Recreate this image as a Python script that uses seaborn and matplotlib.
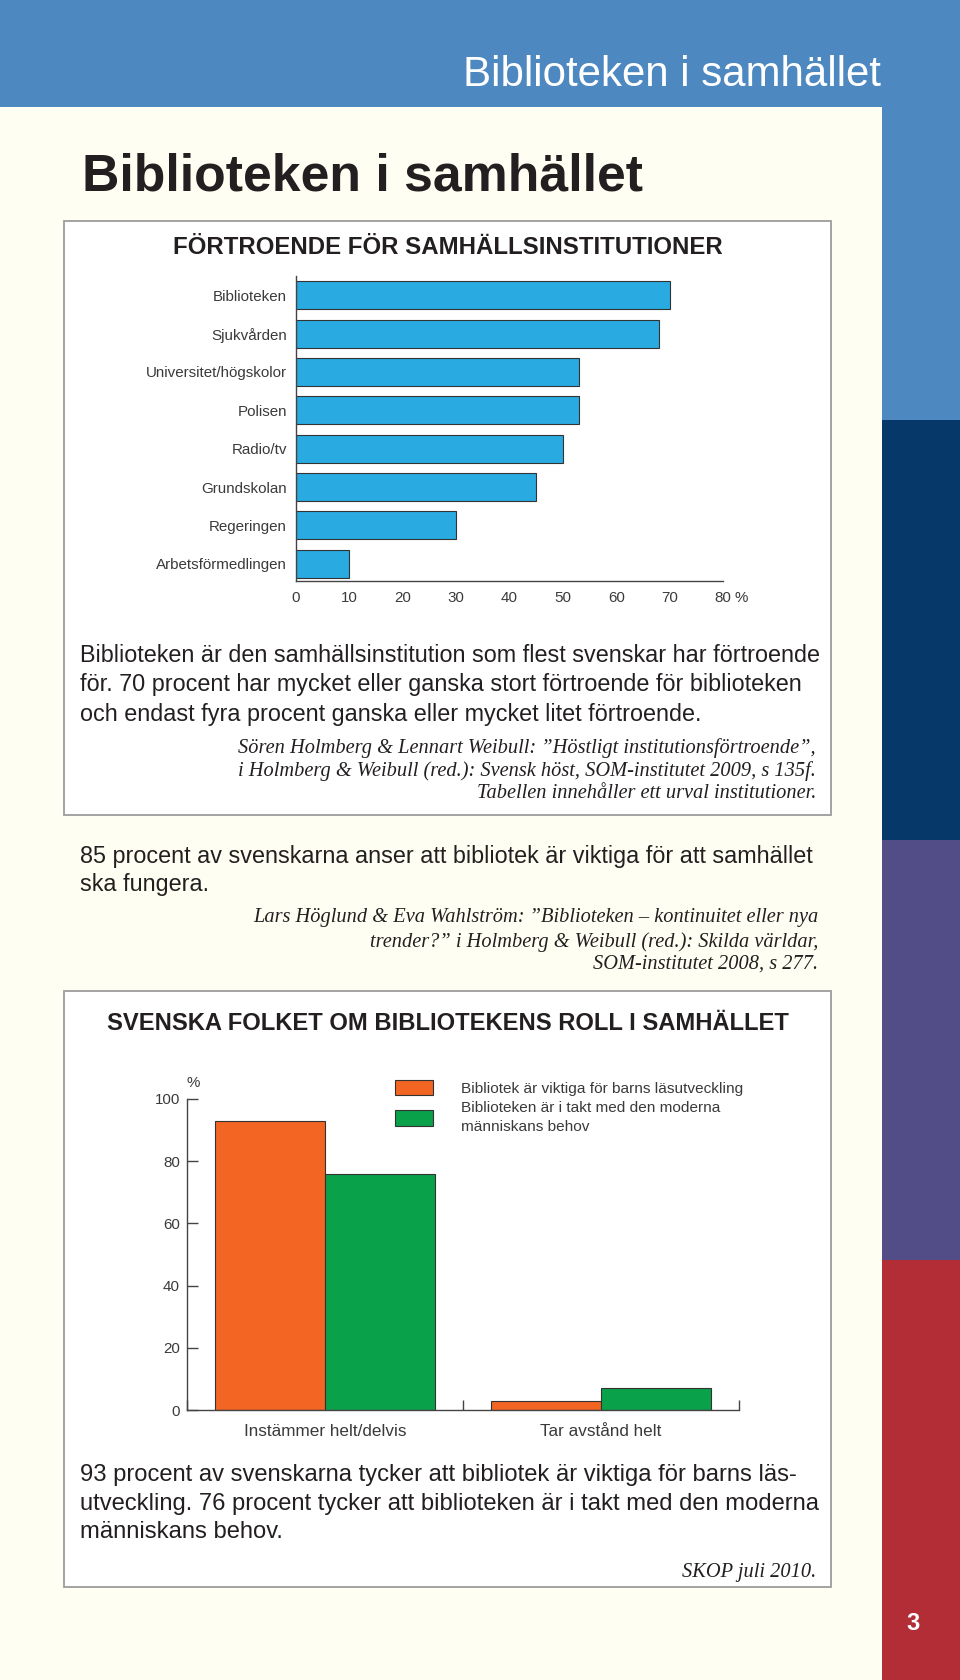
import numpy as np
import pandas as pd
import seaborn as sns
import matplotlib.pyplot as plt
from matplotlib import font_manager
from matplotlib.patches import Rectangle

# data
institutioner = [
    "Biblioteken",
    "Sjukvården",
    "Universitet/högskolor",
    "Polisen",
    "Radio/tv",
    "Grundskolan",
    "Regeringen",
    "Arbetsförmedlingen",
]
fortroende = [70, 68, 53, 53, 50, 45, 30, 10]
x_ticks1 = [0, 10, 20, 30, 40, 50, 60, 70, 80]

svar = ["Instämmer helt/delvis", "Tar avstånd helt"]
serier = [
    "Bibliotek är viktiga för barns läsutveckling",
    "Biblioteken är i takt med den moderna\nmänniskans behov",
]
barn_lasutveckling = [93, 3]
i_takt = [76, 7]
y_ticks2 = [0, 20, 40, 60, 80, 100]

W, H = 960, 1680
cream = "#FFFEF2"
blue_band = "#4D88C0"
stripe_colors = ["#4D88C0", "#06386A", "#524D86", "#B32D36"]
bar_blue = "#29ABE2"
orange = "#F26522"
green = "#0AA14B"
ink = "#231F20"
grey_ink = "#3A3A3A"


def has_font(name):
    try:
        font_manager.findfont(name, fallback_to_default=False)
        return True
    except ValueError:
        return False


narrow = "Liberation Sans Narrow" if has_font("Liberation Sans Narrow") else "Liberation Sans"
sans = "Liberation Sans"
serif = "Liberation Serif"

sns.set_theme(style="white")
plt.rcParams["font.family"] = [narrow, "DejaVu Sans"]

fig = plt.figure(figsize=(9.6, 16.8), dpi=100)
fig.patch.set_facecolor(cream)
renderer = fig.canvas.get_renderer()


def fx(x):
    return x / W


def fy(y):
    return 1 - y / H


def rect(x0, y0, x1, y1, **kw):
    fig.patches.append(
        Rectangle((fx(x0), fy(y1)), (x1 - x0) / W, (y1 - y0) / H,
                  transform=fig.transFigure, zorder=-5, **kw)
    )


def fit(s, width, **kw):
    # font size that makes s about `width` pixels wide
    t = fig.text(0, 0, s, fontsize=20, **kw)
    w = t.get_window_extent(renderer).width
    t.remove()
    return 20 * width / w


def line(x, y, s, **kw):
    fig.text(fx(x), fy(y), s, **kw)


# page background, header band, side stripe
rect(0, 0, W, 107, facecolor=blue_band, edgecolor="none")
for i, c in enumerate(stripe_colors):
    rect(882, i * 420, W, (i + 1) * 420, facecolor=c, edgecolor="none")

# boxes
rect(64, 221, 831, 815, facecolor="white", edgecolor="#9C9C9C", linewidth=1.3)
rect(64, 991, 831, 1587, facecolor="white", edgecolor="#9C9C9C", linewidth=1.3)

# header texts
s = fit("Biblioteken i samhället", 417, family=sans)
line(881, 75, "Biblioteken i samhället", fontsize=s, family=sans, color="white",
     ha="right", va="center")
s = fit("Biblioteken i samhället", 560, family=narrow, weight="bold")
line(82, 177, "Biblioteken i samhället", fontsize=s, family=narrow, weight="bold",
     color=ink, ha="left", va="center")
line(913, 1624, "3", fontsize=17, family=sans, weight="bold", color="white",
     ha="center", va="center")

# chart 1
t1 = "FÖRTROENDE FÖR SAMHÄLLSINSTITUTIONER"
s = fit(t1, 549, family=narrow, weight="bold")
line(448, 247, t1, fontsize=s, family=narrow, weight="bold", color=ink,
     ha="center", va="center")

ax1 = fig.add_axes([fx(296), fy(581), (723 - 296) / W, (581 - 276) / H])
ax1.set_facecolor("none")
sns.barplot(x=fortroende, y=institutioner, orient="h", color=bar_blue, saturation=1,
            edgecolor="#333333", linewidth=0.8, width=0.73, ax=ax1)
ax1.set_xlim(0, 80)
ax1.set_ylim(7.45, -0.5)
ax1.set_xticks(x_ticks1)
ax1.set_xticklabels([str(v) for v in x_ticks1])
lab_size = fit("Universitet/högskolor", 141, family=narrow)
ax1.tick_params(axis="x", length=0, pad=7, labelsize=lab_size, labelcolor=grey_ink)
ax1.tick_params(axis="y", length=0, pad=6.5, labelsize=lab_size, labelcolor=grey_ink)
ax1.set_xlabel("")
ax1.set_ylabel("")
sns.despine(ax=ax1)
for sp in ["left", "bottom"]:
    ax1.spines[sp].set_color("#444444")
    ax1.spines[sp].set_linewidth(1.0)
line(741, 598, "%", fontsize=lab_size, color=grey_ink, ha="center", va="center")

# texts box 1
p1 = [
    "Biblioteken är den samhällsinstitution som flest svenskar har förtroende",
    "för. 70 procent har mycket eller ganska stort förtroende för biblioteken",
    "och endast fyra procent ganska eller mycket litet förtroende.",
]
ps = fit(p1[0], 736, family=narrow)
for y, txt in zip([656, 685, 714], p1):
    line(80, y, txt, fontsize=ps, color=ink, ha="left", va="center")

c1 = [
    "Sören Holmberg & Lennart Weibull: ”Höstligt institutionsförtroende”,",
    "i Holmberg & Weibull (red.): Svensk höst, SOM-institutet 2009, s 135f.",
    "Tabellen innehåller ett urval institutioner.",
]
cs = fit(c1[0], 578, family=serif, style="italic")
for y, txt in zip([748, 771, 794], c1):
    line(816, y, txt, fontsize=cs, family=serif, style="italic", color=ink,
         ha="right", va="center")

# text between boxes
p2 = [
    "85 procent av svenskarna anser att bibliotek är viktiga för att samhället",
    "ska fungera.",
]
for y, txt in zip([857, 885], p2):
    line(80, y, txt, fontsize=ps, color=ink, ha="left", va="center")

c2 = [
    "Lars Höglund & Eva Wahlström: ”Biblioteken – kontinuitet eller nya",
    "trender?” i Holmberg & Weibull (red.): Skilda världar,",
    "SOM-institutet 2008, s 277.",
]
for y, txt in zip([918, 942, 964], c2):
    line(818, y, txt, fontsize=cs, family=serif, style="italic", color=ink,
         ha="right", va="center")

# chart 2
t2 = "SVENSKA FOLKET OM BIBLIOTEKENS ROLL I SAMHÄLLET"
s = fit(t2, 681, family=narrow, weight="bold")
line(448, 1023, t2, fontsize=s, family=narrow, weight="bold", color=ink,
     ha="center", va="center")

df2 = pd.DataFrame({
    "svar": svar + svar,
    "andel": barn_lasutveckling + i_takt,
    "serie": [serier[0]] * len(svar) + [serier[1]] * len(svar),
})
ax2 = fig.add_axes([fx(187), fy(1410), (739 - 187) / W, (1410 - 1099) / H])
ax2.set_facecolor("none")
sns.barplot(data=df2, x="svar", y="andel", hue="serie", palette=[orange, green],
            saturation=1, width=0.8, edgecolor="#333333", linewidth=0.8, ax=ax2)
ax2.set_xlim(-0.5, 1.5)
ax2.set_ylim(0, 100)
ax2.set_yticks(y_ticks2)
ax2.set_yticklabels([str(v) for v in y_ticks2])
ax2.set_xticks([-0.5, 0.5, 1.5], minor=True)
lab2 = fit("Instämmer helt/delvis", 162, family=narrow)
ax2.tick_params(axis="y", direction="in", length=8, width=1, color="#444444",
                pad=5, labelsize=lab_size, labelcolor=grey_ink, left=True)
ax2.tick_params(axis="x", which="major", length=0, pad=10, labelsize=lab2,
                labelcolor=grey_ink)
ax2.tick_params(axis="x", which="minor", direction="in", length=7, width=1,
                color="#444444", bottom=True)
ax2.set_xlabel("")
ax2.set_ylabel("")
sns.despine(ax=ax2)
for sp in ["left", "bottom"]:
    ax2.spines[sp].set_color("#444444")
    ax2.spines[sp].set_linewidth(1.0)
line(193, 1083, "%", fontsize=lab_size, color=grey_ink, ha="center", va="center")

handles, labels = ax2.get_legend_handles_labels()
leg_size = fit(serier[0], 281, family=narrow)
leg = ax2.legend(handles, labels, loc="upper left",
                 bbox_to_anchor=((395 - 187) / 552, 1 + (1099 - 1080) / 311),
                 frameon=False, fontsize=leg_size, handlelength=2.5, handleheight=1.15,
                 handletextpad=1.8, borderpad=0, borderaxespad=0, labelspacing=0.35,
                 labelcolor=grey_ink)
leg.get_texts()[1].set_linespacing(1.45)

# text box 2
p3 = [
    "93 procent av svenskarna tycker att bibliotek är viktiga för barns läs-",
    "utveckling. 76 procent tycker att biblioteken är i takt med den moderna",
    "människans behov.",
]
ps3 = fit(p3[1], 736, family=narrow)
for y, txt in zip([1475, 1504, 1532], p3):
    line(80, y, txt, fontsize=ps3, color=ink, ha="left", va="center")
line(816, 1572, "SKOP juli 2010.", fontsize=cs, family=serif, style="italic",
     color=ink, ha="right", va="center")

fig.savefig("out.png", dpi=100, facecolor=cream)
